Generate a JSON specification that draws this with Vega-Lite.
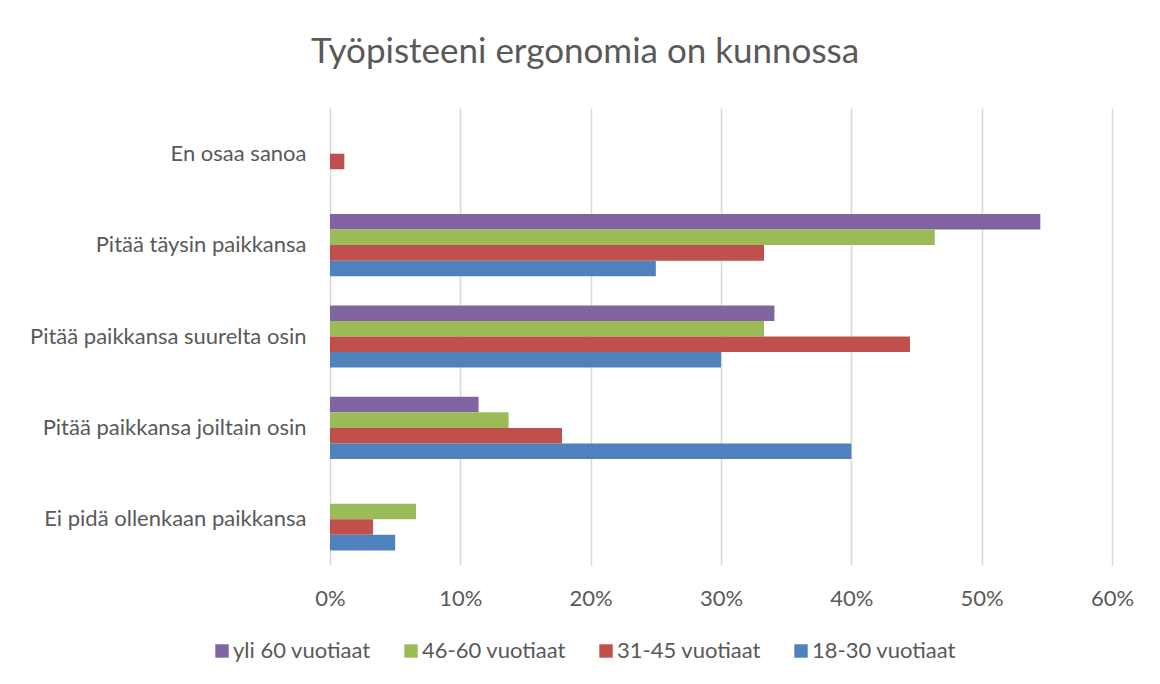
{
  "$schema": "https://vega.github.io/schema/vega-lite/v6.json",
  "autosize": {"type": "none"},
  "width": 782,
  "height": 457,
  "padding": {"left": 330, "top": 108, "right": 48, "bottom": 119},
  "background": "white",
  "title": {
    "text": "Työpisteeni ergonomia on kunnossa",
    "font": "Lato",
    "fontSize": 35,
    "fontWeight": 400,
    "color": "#595959",
    "anchor": "middle",
    "frame": "group",
    "dx": -136,
    "offset": 38
  },
  "data": {
    "values": [
      {"vastaus": "En osaa sanoa", "ikä": "31-45 vuotiaat", "osuus": 0.011},
      {"vastaus": "Pitää täysin paikkansa", "ikä": "yli 60 vuotiaat", "osuus": 0.545},
      {"vastaus": "Pitää täysin paikkansa", "ikä": "46-60 vuotiaat", "osuus": 0.464},
      {"vastaus": "Pitää täysin paikkansa", "ikä": "31-45 vuotiaat", "osuus": 0.333},
      {"vastaus": "Pitää täysin paikkansa", "ikä": "18-30 vuotiaat", "osuus": 0.25},
      {"vastaus": "Pitää paikkansa suurelta osin", "ikä": "yli 60 vuotiaat", "osuus": 0.341},
      {"vastaus": "Pitää paikkansa suurelta osin", "ikä": "46-60 vuotiaat", "osuus": 0.333},
      {"vastaus": "Pitää paikkansa suurelta osin", "ikä": "31-45 vuotiaat", "osuus": 0.445},
      {"vastaus": "Pitää paikkansa suurelta osin", "ikä": "18-30 vuotiaat", "osuus": 0.30},
      {"vastaus": "Pitää paikkansa joiltain osin", "ikä": "yli 60 vuotiaat", "osuus": 0.114},
      {"vastaus": "Pitää paikkansa joiltain osin", "ikä": "46-60 vuotiaat", "osuus": 0.137},
      {"vastaus": "Pitää paikkansa joiltain osin", "ikä": "31-45 vuotiaat", "osuus": 0.178},
      {"vastaus": "Pitää paikkansa joiltain osin", "ikä": "18-30 vuotiaat", "osuus": 0.40},
      {"vastaus": "Ei pidä ollenkaan paikkansa", "ikä": "46-60 vuotiaat", "osuus": 0.066},
      {"vastaus": "Ei pidä ollenkaan paikkansa", "ikä": "31-45 vuotiaat", "osuus": 0.033},
      {"vastaus": "Ei pidä ollenkaan paikkansa", "ikä": "18-30 vuotiaat", "osuus": 0.05}
    ]
  },
  "mark": {"type": "bar"},
  "encoding": {
    "y": {
      "field": "vastaus",
      "type": "nominal",
      "sort": ["En osaa sanoa", "Pitää täysin paikkansa", "Pitää paikkansa suurelta osin", "Pitää paikkansa joiltain osin", "Ei pidä ollenkaan paikkansa"],
      "scale": {"paddingInner": 0.32, "paddingOuter": 0.16},
      "axis": {
        "title": null,
        "domain": false,
        "ticks": false,
        "grid": false,
        "labelFont": "Lato",
        "labelFontSize": 22,
        "labelColor": "#595959",
        "labelPadding": 24,
        "labelLimit": 400
      }
    },
    "yOffset": {
      "field": "ikä",
      "type": "nominal",
      "sort": ["yli 60 vuotiaat", "46-60 vuotiaat", "31-45 vuotiaat", "18-30 vuotiaat"],
      "scale": {"paddingInner": 0, "paddingOuter": 0}
    },
    "x": {
      "field": "osuus",
      "type": "quantitative",
      "scale": {"domain": [0, 0.6], "nice": false},
      "axis": {
        "title": null,
        "format": ".0%",
        "values": [0, 0.1, 0.2, 0.3, 0.4, 0.5, 0.6],
        "domain": false,
        "ticks": false,
        "grid": true,
        "gridColor": "#D9D9D9",
        "gridWidth": 1.5,
        "labelFlush": false,
        "labelFont": "Lato",
        "labelFontSize": 22,
        "labelColor": "#595959",
        "labelPadding": 23
      }
    },
    "color": {
      "field": "ikä",
      "type": "nominal",
      "scale": {
        "domain": ["yli 60 vuotiaat", "46-60 vuotiaat", "31-45 vuotiaat", "18-30 vuotiaat"],
        "range": ["#8064A2", "#9BBB59", "#C0504D", "#4F81BD"]
      },
      "legend": {
        "title": null,
        "orient": "none",
        "direction": "horizontal",
        "legendX": -119,
        "legendY": 532,
        "symbolType": "square",
        "symbolSize": 180,
        "symbolStrokeWidth": 0,
        "labelFont": "Lato",
        "labelFontSize": 22,
        "labelColor": "#595959",
        "labelOffset": 0,
        "columnPadding": 29,
        "labelLimit": 300
      }
    }
  },
  "config": {
    "view": {"stroke": null}
  }
}
